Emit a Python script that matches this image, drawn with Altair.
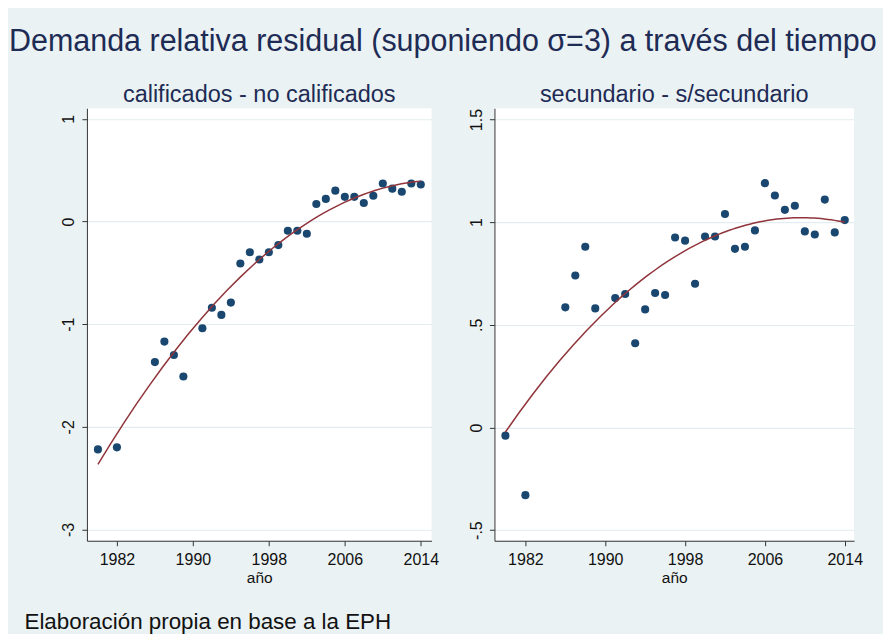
import altair as alt
import pandas as pd

# ---- data ----
years = [1980, 1982, 1986, 1987, 1988, 1989, 1991, 1992, 1993, 1994, 1995, 1996,
         1997, 1998, 1999, 2000, 2001, 2002, 2003, 2004, 2005, 2006, 2007, 2008,
         2009, 2010, 2011, 2012, 2013, 2014]
calificados = [-2.22, -2.20, -1.37, -1.17, -1.30, -1.51, -1.04, -0.84, -0.91, -0.79,
               -0.41, -0.30, -0.37, -0.30, -0.23, -0.09, -0.09, -0.12, 0.17, 0.22,
               0.30, 0.24, 0.24, 0.18, 0.25, 0.37, 0.32, 0.29, 0.37, 0.36]
secundario = [-0.04, -0.33, 0.585, 0.74, 0.88, 0.58, 0.63, 0.65, 0.41, 0.575,
              0.655, 0.645, 0.925, 0.91, 0.70, 0.93, 0.93, 1.04, 0.87, 0.88,
              0.96, 1.19, 1.13, 1.06, 1.08, 0.955, 0.94, 1.11, 0.95, 1.01]

x_ticks = [1982, 1990, 1998, 2006, 2014]
left_y_ticks = [-3, -2, -1, 0, 1]
left_y_labels = ["-3", "-2", "-1", "0", "1"]
right_y_ticks = [-0.5, 0, 0.5, 1, 1.5]
right_y_labels = ["-.5", "0", ".5", "1", "1.5"]

main_title = "Demanda relativa residual (suponiendo σ=3) a través del tiempo"
subtitles = ["calificados - no calificados", "secundario - s/secundario"]
x_title = "año"
note = "Elaboración propia en base a la EPH"

df = pd.DataFrame({"year": years, "calif": calificados, "secund": secundario})

FONT = "Liberation Sans"
NAVY = "#1A476F"
MAROON = "#90353B"
TXT = "#1E2B55"
BG = "#EAF2F3"


def label_expr(vals, labs):
    parts = [f"datum.value == {v} ? '{l}'" for v, l in zip(vals, labs)]
    return " : ".join(parts) + " : ''"


def panel(field, subtitle, xdom, ydom, yvals, ylabs, width):
    x = alt.X("year:Q",
              scale=alt.Scale(domain=xdom, nice=False, zero=False),
              axis=alt.Axis(values=x_ticks, format="d", title=x_title, grid=False,
                            labelFontSize=16, titleFontSize=15.5, labelPadding=5.5,
                            titlePadding=3, labelFlush=False))
    y = alt.Y(f"{field}:Q",
              scale=alt.Scale(domain=ydom, nice=False, zero=False),
              axis=alt.Axis(values=yvals, labelExpr=label_expr(yvals, ylabs), title=None,
                            grid=True, gridColor="#E3ECEE", gridWidth=1.2,
                            labelAngle=270, labelAlign="center", labelBaseline="bottom",
                            labelFontSize=16, labelPadding=5, labelFlush=False))
    pts = alt.Chart(df).mark_circle(size=66, color=NAVY, opacity=1).encode(x=x, y=y)
    fit = (alt.Chart(df)
           .transform_regression("year", field, method="poly", order=2, extent=[1980, 2014])
           .mark_line(color=MAROON, strokeWidth=1.5)
           .encode(x=x, y=y))
    return alt.layer(pts, fit).properties(
        width=width, height=433,
        title=alt.Title(subtitle, fontSize=23.5, font=FONT, color=TXT, fontWeight="normal",
                        anchor="middle", offset=2))


left = panel("calif", subtitles[0], [1978.84, 2015.13], [-3.11, 1.103],
             left_y_ticks, left_y_labels, 345)
right = panel("secund", subtitles[1], [1978.9, 2014.93], [-0.552, 1.555],
              right_y_ticks, right_y_labels, 360)

top = alt.hconcat(left, right, spacing=29).properties(
    title=alt.Title(main_title, fontSize=30.5, font=FONT, color=TXT, fontWeight="normal",
                    anchor="start", dx=-52, offset=25))

chart = (alt.vconcat(top)
         .properties(
             title=alt.Title(note, orient="bottom", anchor="start", fontSize=22.4, font=FONT,
                             color="#111111", fontWeight="normal", dx=15.5, offset=25),
             padding={"left": 1, "top": 19, "right": 5, "bottom": 0},
             background=BG)
         .configure_view(fill="white", strokeWidth=0)
         .configure_axis(domainColor="#333333", tickColor="#333333", labelColor="#111111",
                         titleColor="#111111", labelFont=FONT, titleFont=FONT,
                         tickSize=5, domainWidth=1, tickWidth=1, titleFontWeight="normal"))

chart.save("out.html", embed_options={"renderer": "svg", "actions": False})
